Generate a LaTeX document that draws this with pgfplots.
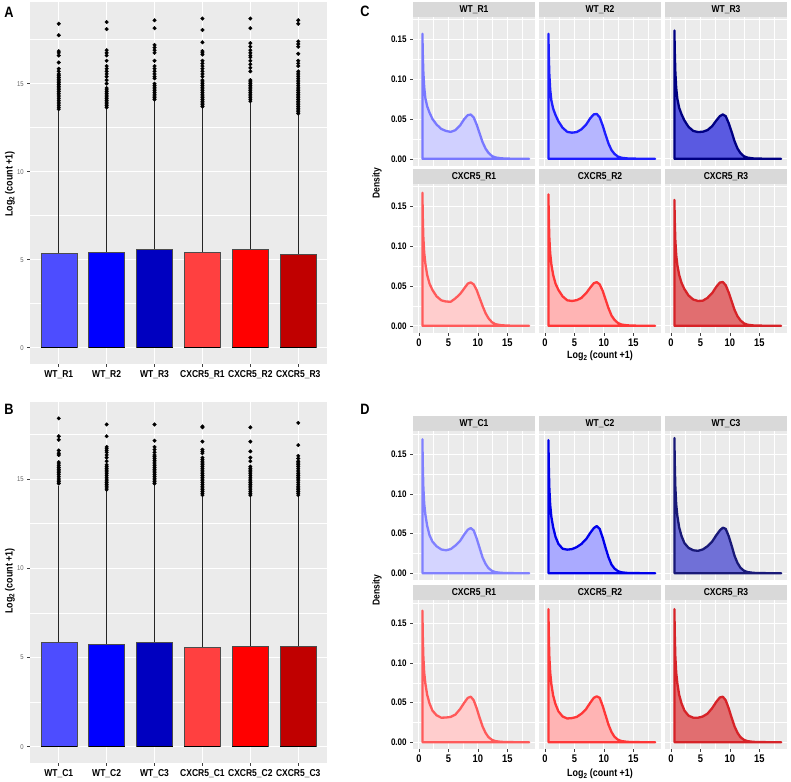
\documentclass[border=0pt]{standalone}
\usepackage{pgfplots}
\usepackage{pgfplotstable}
\pgfplotsset{compat=1.18}
\usepackage{fontspec}
\setmainfont{Liberation Sans}[FakeStretch=0.85]
\newcommand{\fs}[1]{\fontsize{#1}{#1}\selectfont}

\definecolor{ggbg}{RGB}{235,235,235}
\definecolor{stripgray}{RGB}{217,217,217}
\definecolor{bR1}{RGB}{77,77,255}
\definecolor{bR2}{RGB}{0,0,255}
\definecolor{bR3}{RGB}{0,0,192}
\definecolor{bX1}{RGB}{255,64,64}
\definecolor{bX2}{RGB}{255,0,0}
\definecolor{bX3}{RGB}{192,0,0}
% density colours
\definecolor{lca}{RGB}{120,120,255}\definecolor{fca}{RGB}{208,208,255}
\definecolor{lcb}{RGB}{30,30,255}\definecolor{fcb}{RGB}{182,182,255}
\definecolor{lcc}{RGB}{0,0,130}\definecolor{fcc}{RGB}{90,90,225}
\definecolor{lcd}{RGB}{255,90,90}\definecolor{fcd}{RGB}{255,205,205}
\definecolor{lce}{RGB}{255,55,55}\definecolor{fce}{RGB}{255,180,180}
\definecolor{lcf}{RGB}{215,35,40}\definecolor{fcf}{RGB}{225,110,112}
\definecolor{lda}{RGB}{128,128,255}\definecolor{fda}{RGB}{212,212,255}
\definecolor{ldb}{RGB}{0,0,235}\definecolor{fdb}{RGB}{170,170,255}
\definecolor{ldc}{RGB}{25,25,120}\definecolor{fdc}{RGB}{112,112,215}

\pgfplotstableread{
x    ca     cb     cc     cd     ce     cf     da     db     dc     dd     de     df
0.6  0.157  0.157  0.161  0.167  0.165  0.158  0.169  0.168  0.1706 0.166  0.168  0.168
0.65 0.135  0.133  0.137  0.140  0.139  0.134  0.140  0.139  0.141  0.138  0.139  0.139
0.75 0.110  0.107  0.110  0.112  0.111  0.108  0.110  0.108  0.110  0.109  0.109  0.109
0.9  0.090  0.087  0.089  0.092  0.091  0.089  0.088  0.086  0.087  0.088  0.088  0.088
1.1  0.076  0.073  0.075  0.078  0.077  0.076  0.074  0.071  0.072  0.074  0.073  0.074
1.4  0.066  0.063  0.064  0.064  0.064  0.064  0.060  0.058  0.058  0.060  0.059  0.060
1.8  0.058  0.055  0.056  0.053  0.053  0.054  0.048  0.046  0.047  0.049  0.048  0.049
2.3  0.050  0.047  0.048  0.045  0.045  0.046  0.040  0.037  0.038  0.040  0.039  0.040
3.0  0.043  0.039  0.040  0.037  0.037  0.038  0.034  0.031  0.032  0.034  0.0325 0.0335
3.8  0.0375 0.0338 0.035  0.032  0.032  0.033  0.030  0.0298 0.029  0.031  0.030  0.031
4.6  0.035  0.0328 0.0336 0.0305 0.0312 0.0312 0.029  0.0305 0.0283 0.0312 0.0305 0.031
5.4  0.0338 0.0336 0.034  0.0302 0.0322 0.0315 0.0305 0.033  0.030  0.032  0.032  0.0325
6.2  0.036  0.037  0.036  0.0345 0.035  0.035  0.035  0.037  0.034  0.035  0.036  0.036
7.0  0.042  0.043  0.041  0.040  0.041  0.041  0.041  0.043  0.040  0.042  0.042  0.043
7.7  0.050  0.051  0.048  0.047  0.048  0.049  0.049  0.051  0.048  0.050  0.050  0.051
8.3  0.0548 0.0558 0.0535 0.053  0.0535 0.0543 0.055  0.057  0.054  0.056  0.056  0.0565
8.8  0.0556 0.0563 0.0557 0.0545 0.0548 0.055  0.057  0.0595 0.0575 0.0575 0.058  0.0575
9.3  0.052  0.052  0.0535 0.052  0.052  0.051  0.054  0.056  0.056  0.053  0.056  0.053
9.8  0.043  0.042  0.045  0.045  0.044  0.042  0.044  0.045  0.047  0.043  0.046  0.043
10.3 0.032  0.030  0.034  0.035  0.033  0.031  0.032  0.032  0.035  0.031  0.034  0.031
10.8 0.021  0.019  0.022  0.025  0.022  0.020  0.020  0.020  0.022  0.020  0.022  0.020
11.3 0.013  0.011  0.013  0.016  0.013  0.012  0.012  0.011  0.013  0.012  0.013  0.012
11.8 0.0075 0.0062 0.0072 0.0095 0.0075 0.0068 0.0065 0.006  0.007  0.0065 0.007  0.0065
12.4 0.0035 0.0028 0.0032 0.0045 0.0035 0.0031 0.003  0.0027 0.0032 0.003  0.0032 0.003
13.0 0.0017 0.0013 0.0015 0.002  0.0016 0.0014 0.0014 0.0012 0.0015 0.0014 0.0015 0.0014
14.0 0.0006 0.0005 0.0005 0.0007 0.0006 0.0005 0.0005 0.0004 0.0005 0.0005 0.0005 0.0005
15.5 0.0002 0.0002 0.0002 0.0002 0.0002 0.0002 0.0002 0.0002 0.0002 0.0002 0.0002 0.0002
17.0 0.00005 0.00005 0.00005 0.00005 0.00005 0.00005 0.00005 0.00005 0.00005 0.00005 0.00005 0.00005
18.7 0      0      0      0      0      0      0      0      0      0      0      0
}\dens

\pgfplotsset{
  gg/.style={scale only axis, anchor=south west,
    axis background/.style={fill=ggbg}, axis line style={draw=none},
    grid=both, major grid style={draw=white, line width=0.9pt},
    minor grid style={draw=white, line width=0.45pt},
    tick align=outside, major tick length=2.75pt, minor tick length=0pt,
    tick style={draw=black!75, line width=0.5pt},
    xtick pos=left, ytick pos=left, scaled y ticks=false},
  box/.style={gg, width=297pt, xmin=0.4, xmax=6.6, xtick={1,2,3,4,5,6}, minor xtick={},
    ytick={0,5,10,15}, minor ytick={2.5,7.5,12.5,17.5}, yticklabels={0,5,10,15},
    xticklabel style={font=\bfseries\fs{10}}, yticklabel style={font=\fs{7}, text=black!60}},
  wh/.style={black!85, line width=0.6pt},
  bx/.style={draw=black!70, line width=0.4pt},
  med/.style={black, line width=1.5pt},
  out/.style={only marks, mark=*, mark size=1.8pt, black, mark options={fill=black}},
  dens/.style={gg, width=122pt, height=149pt, xmin=-1, xmax=19.7,
    xtick={0,5,10,15}, minor xtick={2.5,7.5,12.5,17.5},
    ytick={0,0.05,0.1,0.15}, minor ytick={0.025,0.075,0.125,0.175},
    xticklabels={}, yticklabels={}, xtick style={draw=none}, ytick style={draw=none},
    yticklabel style={font=\bfseries\fs{9.5}}, xticklabel style={font=\bfseries\fs{11}}},
  dbottom/.style={xticklabels={0,5,10,15}, xtick style={draw=black!75}},
  dleft/.style={yticklabels={0.00,0.05,0.10,0.15}, ytick style={draw=black!75}},
  dline/.style={line width=2.3pt, line join=round},
}

\newcommand{\dpanel}[9]{%
\begin{axis}[dens, at={(#1pt,#2pt)}, name=#8, #9, #3]
\addplot[dline, draw=#5, fill=#6] table[x=x, y=#4] {\dens} \closedcycle;
\end{axis}
\fill[stripgray] (#8.north west) rectangle ([yshift=15pt]#8.north east);
\node[font=\bfseries\fs{10}] at ([yshift=7.5pt]#8.north) {#7};
}

\begin{document}
\begin{tikzpicture}
\useasboundingbox (0pt,0pt) rectangle (791pt,781pt);

% ---------------- Panel A ----------------
\begin{axis}[box, at={(30pt,417pt)}, height=362pt, ymin=-0.93, ymax=19.64,
  xticklabels={WT\_R1,WT\_R2,WT\_R3,CXCR5\_R1,CXCR5\_R2,CXCR5\_R3}]
\addplot[wh] coordinates {(1,5.38)(1,13.45)};
\addplot[wh] coordinates {(2,5.44)(2,13.6)};
\addplot[wh] coordinates {(3,5.6)(3,14.0)};
\addplot[wh] coordinates {(4,5.45)(4,13.6)};
\addplot[wh] coordinates {(5,5.57)(5,13.9)};
\addplot[wh] coordinates {(6,5.3)(6,13.25)};
\addplot[bx, fill=bR1] coordinates {(0.625,5.38)(1.375,5.38)} \closedcycle;
\addplot[bx, fill=bR2] coordinates {(1.625,5.44)(2.375,5.44)} \closedcycle;
\addplot[bx, fill=bR3] coordinates {(2.625,5.6)(3.375,5.6)} \closedcycle;
\addplot[bx, fill=bX1] coordinates {(3.625,5.45)(4.375,5.45)} \closedcycle;
\addplot[bx, fill=bX2] coordinates {(4.625,5.57)(5.375,5.57)} \closedcycle;
\addplot[bx, fill=bX3] coordinates {(5.625,5.3)(6.375,5.3)} \closedcycle;
\addplot[med] coordinates {(0.625,0)(1.375,0)};
\addplot[med] coordinates {(1.625,0)(2.375,0)};
\addplot[med] coordinates {(2.625,0)(3.375,0)};
\addplot[med] coordinates {(3.625,0)(4.375,0)};
\addplot[med] coordinates {(4.625,0)(5.375,0)};
\addplot[med] coordinates {(5.625,0)(6.375,0)};
\addplot[out] coordinates {(1,18.4)(1,17.75)(1,16.85)(1,16.75)(1,16.6)(1,16.2)(1,15.85)(1,15.7)(1,15.55)(1,15.45)(1,15.35)(1,15.25)(1,15.15)(1,15.05)(1,14.95)(1,14.85)(1,14.75)(1,14.65)(1,14.55)(1,14.45)(1,14.35)(1,14.25)(1,14.15)(1,14.05)(1,13.95)(1,13.85)(1,13.75)(1,13.65)(1,13.55)};
\addplot[out] coordinates {(2,18.5)(2,18.1)(2,16.9)(2,16.75)(2,16.6)(2,16.3)(2,16.0)(2,15.85)(2,15.7)(2,15.55)(2,15.4)(2,15.2)(2,15.0)(2,14.75)(2,14.65)(2,14.55)(2,14.45)(2,14.35)(2,14.25)(2,14.15)(2,14.05)(2,13.95)(2,13.85)(2,13.75)(2,13.65)};
\addplot[out] coordinates {(3,18.6)(3,18.15)(3,17.2)(3,17.05)(3,16.9)(3,16.75)(3,16.3)(3,16.0)(3,15.85)(3,15.7)(3,15.55)(3,15.4)(3,15.3)(3,15.0)(3,14.9)(3,14.8)(3,14.7)(3,14.6)(3,14.5)(3,14.4)(3,14.3)(3,14.2)(3,14.1)};
\addplot[out] coordinates {(4,18.7)(4,18.05)(4,17.35)(4,16.85)(4,16.75)(4,16.65)(4,16.3)(4,16.15)(4,16.0)(4,15.85)(4,15.7)(4,15.55)(4,15.4)(4,15.2)(4,15.1)(4,15.0)(4,14.9)(4,14.8)(4,14.7)(4,14.6)(4,14.5)(4,14.4)(4,14.3)(4,14.2)(4,14.1)(4,14.0)(4,13.9)(4,13.8)(4,13.7)};
\addplot[out] coordinates {(5,18.7)(5,18.15)(5,17.3)(5,17.1)(5,16.9)(5,16.75)(5,16.6)(5,16.5)(5,16.3)(5,16.1)(5,15.9)(5,15.7)(5,15.2)(5,15.1)(5,15.0)(5,14.9)(5,14.8)(5,14.7)(5,14.6)(5,14.5)(5,14.4)(5,14.3)(5,14.2)(5,14.1)(5,14.0)};
\addplot[out] coordinates {(6,18.6)(6,18.4)(6,17.4)(6,17.25)(6,17.1)(6,16.7)(6,16.3)(6,16.15)(6,16.0)(6,15.7)(6,15.6)(6,15.5)(6,15.4)(6,15.3)(6,15.2)(6,15.1)(6,15.0)(6,14.9)(6,14.8)(6,14.7)(6,14.6)(6,14.5)(6,14.4)(6,14.3)(6,14.2)(6,14.1)(6,14.0)(6,13.9)(6,13.8)(6,13.7)(6,13.6)(6,13.5)(6,13.4)(6,13.3)};
\end{axis}

% ---------------- Panel B ----------------
\begin{axis}[box, at={(30pt,18pt)}, height=361pt, ymin=-0.92, ymax=19.32,
  xticklabels={WT\_C1,WT\_C2,WT\_C3,CXCR5\_C1,CXCR5\_C2,CXCR5\_C3}]
\addplot[wh] coordinates {(1,5.85)(1,14.6)};
\addplot[wh] coordinates {(2,5.75)(2,14.35)};
\addplot[wh] coordinates {(3,5.87)(3,14.65)};
\addplot[wh] coordinates {(4,5.6)(4,14.0)};
\addplot[wh] coordinates {(5,5.62)(5,14.05)};
\addplot[wh] coordinates {(6,5.62)(6,14.05)};
\addplot[bx, fill=bR1] coordinates {(0.625,5.85)(1.375,5.85)} \closedcycle;
\addplot[bx, fill=bR2] coordinates {(1.625,5.75)(2.375,5.75)} \closedcycle;
\addplot[bx, fill=bR3] coordinates {(2.625,5.87)(3.375,5.87)} \closedcycle;
\addplot[bx, fill=bX1] coordinates {(3.625,5.6)(4.375,5.6)} \closedcycle;
\addplot[bx, fill=bX2] coordinates {(4.625,5.62)(5.375,5.62)} \closedcycle;
\addplot[bx, fill=bX3] coordinates {(5.625,5.62)(6.375,5.62)} \closedcycle;
\addplot[med] coordinates {(0.625,0)(1.375,0)};
\addplot[med] coordinates {(1.625,0)(2.375,0)};
\addplot[med] coordinates {(2.625,0)(3.375,0)};
\addplot[med] coordinates {(3.625,0)(4.375,0)};
\addplot[med] coordinates {(4.625,0)(5.375,0)};
\addplot[med] coordinates {(5.625,0)(6.375,0)};
\addplot[out] coordinates {(1,18.4)(1,17.4)(1,17.2)(1,16.6)(1,16.45)(1,16.35)(1,15.95)(1,15.85)(1,15.75)(1,15.65)(1,15.55)(1,15.45)(1,15.35)(1,15.25)(1,15.15)(1,15.05)(1,14.95)(1,14.85)(1,14.75)};
\addplot[out] coordinates {(2,18.06)(2,17.4)(2,16.8)(2,16.7)(2,16.6)(2,16.5)(2,16.35)(2,16.2)(2,16.0)(2,15.8)(2,15.7)(2,15.6)(2,15.5)(2,15.4)(2,15.3)(2,15.2)(2,15.1)(2,15.0)(2,14.9)(2,14.8)(2,14.7)(2,14.6)(2,14.5)(2,14.4)};
\addplot[out] coordinates {(3,18.06)(3,17.15)(3,16.8)(3,16.65)(3,16.5)(3,16.35)(3,16.25)(3,16.15)(3,16.05)(3,15.95)(3,15.85)(3,15.75)(3,15.65)(3,15.55)(3,15.45)(3,15.35)(3,15.25)(3,15.15)(3,15.05)(3,14.95)(3,14.85)(3,14.75)};
\addplot[out] coordinates {(4,17.95)(4,17.9)(4,17.1)(4,16.65)(4,16.55)(4,16.45)(4,16.2)(4,16.1)(4,16.0)(4,15.9)(4,15.8)(4,15.7)(4,15.6)(4,15.5)(4,15.4)(4,15.3)(4,15.2)(4,15.1)(4,15.0)(4,14.9)(4,14.8)(4,14.7)(4,14.6)(4,14.5)(4,14.4)(4,14.3)(4,14.2)(4,14.1)};
\addplot[out] coordinates {(5,17.9)(5,17.1)(5,16.55)(5,16.2)(5,16.0)(5,15.7)(5,15.6)(5,15.5)(5,15.4)(5,15.3)(5,15.2)(5,15.1)(5,15.0)(5,14.9)(5,14.8)(5,14.7)(5,14.6)(5,14.5)(5,14.4)(5,14.3)(5,14.2)(5,14.1)};
\addplot[out] coordinates {(6,18.15)(6,16.9)(6,16.3)(6,16.15)(6,16.0)(6,15.9)(6,15.8)(6,15.7)(6,15.6)(6,15.5)(6,15.4)(6,15.3)(6,15.2)(6,15.1)(6,15.0)(6,14.9)(6,14.8)(6,14.7)(6,14.6)(6,14.5)(6,14.4)(6,14.3)(6,14.2)(6,14.1)};
\end{axis}

\node[rotate=90, font=\bfseries\fs{10.5}] at (10pt,597pt) {Log\textsubscript{2} (count +1)};
\node[rotate=90, font=\bfseries\fs{10.5}] at (10pt,200pt) {Log\textsubscript{2} (count +1)};

% ---------------- Panel C ----------------
\dpanel{413}{615}{dleft}{ca}{lca}{fca}{WT\_R1}{c11}{ymin=-0.009, ymax=0.178}
\dpanel{539}{615}{}{cb}{lcb}{fcb}{WT\_R2}{c12}{ymin=-0.009, ymax=0.178}
\dpanel{665}{615}{}{cc}{lcc}{fcc}{WT\_R3}{c13}{ymin=-0.009, ymax=0.178}
\dpanel{413}{448}{dleft,dbottom}{cd}{lcd}{fcd}{CXCR5\_R1}{c21}{ymin=-0.009, ymax=0.178}
\dpanel{539}{448}{dbottom}{ce}{lce}{fce}{CXCR5\_R2}{c22}{ymin=-0.009, ymax=0.178}
\dpanel{665}{448}{dbottom}{cf}{lcf}{fcf}{CXCR5\_R3}{c23}{ymin=-0.009, ymax=0.178}

% ---------------- Panel D ----------------
\dpanel{413}{201}{dleft}{da}{lda}{fda}{WT\_C1}{d11}{ymin=-0.0085, ymax=0.1795}
\dpanel{539}{201}{}{db}{ldb}{fdb}{WT\_C2}{d12}{ymin=-0.0085, ymax=0.1795}
\dpanel{665}{201}{}{dc}{ldc}{fdc}{WT\_C3}{d13}{ymin=-0.0085, ymax=0.1795}
\dpanel{413}{32}{dleft,dbottom}{dd}{lcd}{fcd}{CXCR5\_R1}{d21}{ymin=-0.0085, ymax=0.1795}
\dpanel{539}{32}{dbottom}{de}{lce}{fce}{CXCR5\_R2}{d22}{ymin=-0.0085, ymax=0.1795}
\dpanel{665}{32}{dbottom}{df}{lcf}{fcf}{CXCR5\_R3}{d23}{ymin=-0.0085, ymax=0.1795}

\node[rotate=90, font=\bfseries\fs{10}] at (377pt,598pt) {Density};
\node[rotate=90, font=\bfseries\fs{10}] at (377pt,191pt) {Density};
\node[font=\bfseries\fs{10.5}] at (600pt,425pt) {Log\textsubscript{2} (count +1)};
\node[font=\bfseries\fs{10.5}] at (600pt,7pt) {Log\textsubscript{2} (count +1)};

\node[font=\bfseries\fs{15}] at (9pt,769pt) {A};
\node[font=\bfseries\fs{15}] at (9pt,372pt) {B};
\node[font=\bfseries\fs{15}] at (365pt,770pt) {C};
\node[font=\bfseries\fs{15}] at (365pt,372pt) {D};
\end{tikzpicture}
\end{document}
